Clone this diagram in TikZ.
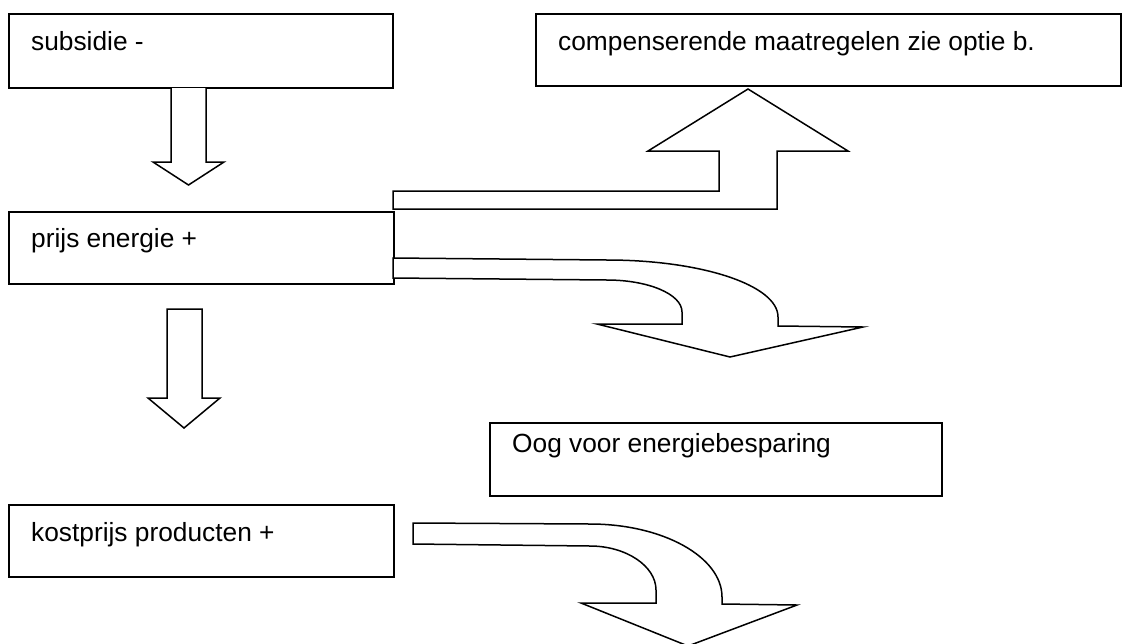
\documentclass[tikz,border=0pt]{standalone}
\usepackage{fontspec}
\setmainfont{Liberation Sans}
\begin{document}
\begin{tikzpicture}[x=1pt,y=-1pt,
  line join=miter,
  box/.style={draw=black,line width=1.5pt,fill=white,rectangle},
  lbl/.style={anchor=base west,inner sep=0pt,font=\fontsize{26.3}{31}\selectfont},
  blockarrow/.style={draw=black,line width=1.5pt,fill=white}]
\useasboundingbox (0,0) rectangle (1123,643);
\clip (0,0) rectangle (1123,643);

% boxes
\draw[box] (9,14) rectangle (393,88);
\draw[box] (9,212) rectangle (394,284);
\draw[box] (9,505) rectangle (394,577);
\draw[box] (536,14) rectangle (1121,86);
\draw[box] (490,423) rectangle (942,496);

% texts
\node[lbl] (sub)  at (31,50)  {subsidie -};
\node[lbl] (prijs) at (31,247) {prijs energie +};
\node[lbl] (kost) at (31,541) {kostprijs producten +};
\node[lbl] (comp) at (558,50) {compenserende maatregelen zie optie b.};
\node[lbl] (oog)  at (512,452) {Oog voor energiebesparing};

% straight down arrows
\draw[blockarrow] (171,88) -- (171,162) -- (153,162) -- (188.5,185) -- (224,162) -- (206,162) -- (206,88);
\draw[blockarrow] (167,309) -- (167,398) -- (148,398) -- (184,428) -- (220,398) -- (202,398) -- (202,309) -- cycle;

% bent-up arrow
\draw[blockarrow] (393,191) -- (719,191) -- (719,151) -- (648,151) -- (748,89)
  -- (848,151) -- (777,151) -- (777,209) -- (393,209) -- cycle;

% curved arrow from the energy price box
\draw[blockarrow] (393,258) -- (607,260)
  .. controls (701,260) and (778,285) .. (778,317)
  -- (778,326) -- (863,327) -- (730,357) -- (597,324) -- (682,324) -- (682,312)
  .. controls (682,294) and (648,280) .. (607,280)
  -- (393,278) -- cycle;

% curved arrow from the cost price box
\draw[blockarrow] (413,523) -- (590,524)
  .. controls (663,524) and (722,557) .. (722,597)
  -- (722,604) -- (797,605) -- (688,646) -- (581,603) -- (656,603) -- (656,590)
  .. controls (656,566) and (626,546) .. (590,546)
  -- (413,544) -- cycle;
\end{tikzpicture}
\end{document}
